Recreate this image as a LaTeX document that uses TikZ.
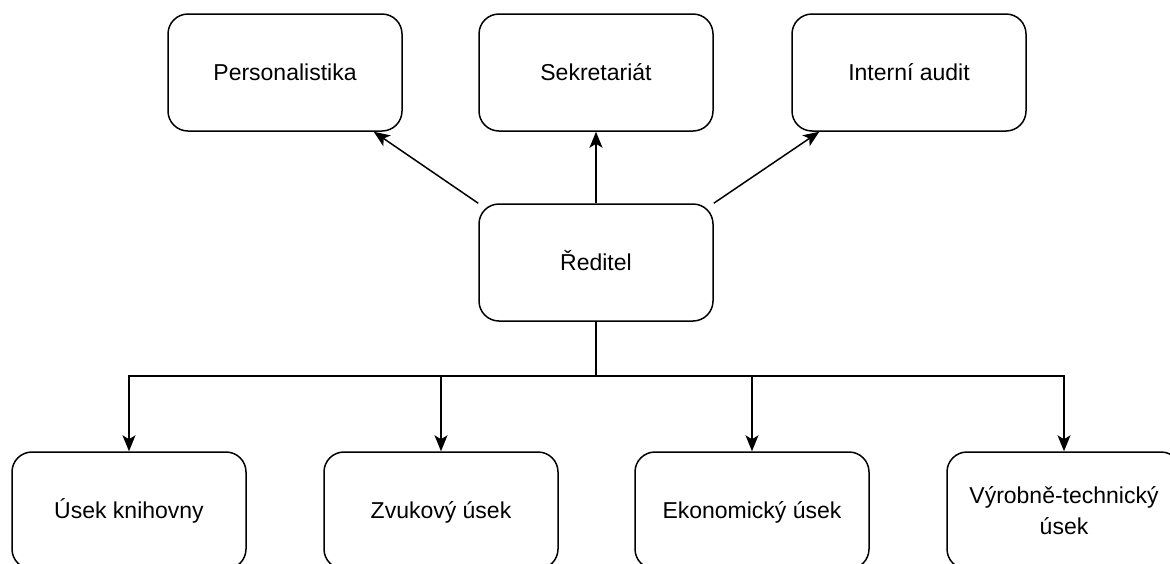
\documentclass[tikz,border=0pt]{standalone}
\usepackage{fontspec}
\setmainfont{Liberation Sans}
\usetikzlibrary{arrows.meta}
\begin{document}
\begin{tikzpicture}[x=1pt,y=-1pt,
  box/.style={draw,line width=1.5pt,rounded corners=20pt,minimum width=234pt,minimum height=117pt,
    align=center,inner sep=0pt,font=\fontsize{23}{31}\selectfont},
  oneline/.style={box,text height=16.5pt,text depth=0pt},
  conn/.style={line width=1.5pt},
  arr/.style={conn,-{Stealth[length=16pt,width=13pt,inset=4pt]}}]
\clip (0,0) rectangle (1170,563);
\useasboundingbox (0,0) rectangle (1170,563);
\node[oneline] (p) at (285,72.5) {Personalistika};
\node[oneline] (s) at (596,72.5) {Sekretariát};
\node[oneline] (i) at (909,72.5) {Interní audit};
\node[oneline] (r) at (596,262.5) {Ředitel};
\node[oneline] (b1) at (129,510.5) {Úsek knihovny};
\node[oneline] (b2) at (441,510.5) {Zvukový úsek};
\node[oneline] (b3) at (752,510.5) {Ekonomický úsek};
\node[box] (b4) at (1064,510.5) {Výrobně-technický\\úsek};
\draw[arr] (r.north west) -- ([xshift=-29pt]p.south east);
\draw[arr] (r.north) -- (s.south);
\draw[arr] (r.north east) -- ([xshift=28pt]i.south west);
\coordinate (j) at (596,376);
\draw[conn] (r.south) -- (j);
\draw[arr] (j) -| (b1.north);
\draw[arr] (j) -| (b2.north);
\draw[arr] (j) -| (b3.north);
\draw[arr] (j) -| (b4.north);
\end{tikzpicture}
\end{document}
